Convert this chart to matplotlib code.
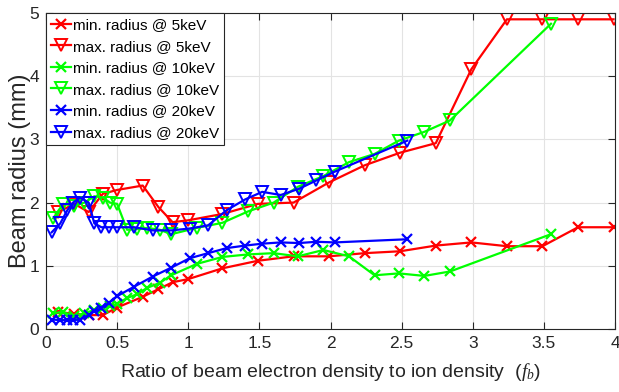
import matplotlib
matplotlib.use("Agg")
import matplotlib.pyplot as plt

plt.rcParams['font.family'] = ['Liberation Sans', 'DejaVu Sans']
plt.rcParams['mathtext.fontset'] = 'custom'
plt.rcParams['mathtext.it'] = 'Liberation Serif:italic'
plt.rcParams['mathtext.rm'] = 'Liberation Serif'

# 5 keV
x5 = [0.085, 0.2, 0.3, 0.4, 0.5, 0.68, 0.79, 0.89, 1.0, 1.24, 1.49, 1.74, 1.99,
      2.24, 2.49, 2.74, 2.99, 3.24, 3.49, 3.74, 3.99]
min5 = [0.27, 0.24, 0.22, 0.22, 0.34, 0.51, 0.63, 0.74, 0.79, 0.96, 1.08, 1.15, 1.15,
        1.2, 1.23, 1.32, 1.37, 1.31, 1.31, 1.61, 1.61]
max5 = [1.85, 1.98, 1.85, 2.14, 2.2, 2.27, 1.93, 1.69, 1.72, 1.82, 1.98, 2.0, 2.32,
        2.59, 2.79, 2.94, 4.11, 4.9, 4.9, 4.9, 4.9]

# 10 keV
x10 = [0.05, 0.12, 0.2, 0.27, 0.34, 0.4, 0.45, 0.5, 0.57, 0.64, 0.71, 0.8, 0.88,
       1.06, 1.24, 1.42, 1.6, 1.77, 1.95, 2.13, 2.31, 2.48, 2.66, 2.84, 3.55]
min10 = [0.25, 0.27, 0.2, 0.25, 0.3, 0.33, 0.36, 0.4, 0.49, 0.55, 0.65, 0.73, 0.85,
         1.03, 1.14, 1.18, 1.2, 1.15, 1.25, 1.15, 0.85, 0.88, 0.84, 0.91, 1.5]
max10 = [1.75, 1.98, 1.95, 2.0, 2.1, 2.08, 2.0, 1.98, 1.57, 1.58, 1.6, 1.57, 1.5,
         1.6, 1.68, 1.86, 2.0, 2.25, 2.42, 2.64, 2.77, 2.98, 3.12, 3.3, 4.83]

# 20 keV
x20 = [0.04, 0.1, 0.15, 0.19, 0.24, 0.3, 0.34, 0.39, 0.44, 0.5, 0.62, 0.75, 0.88,
       1.01, 1.14, 1.27, 1.4, 1.52, 1.65, 1.78, 1.9, 2.03, 2.54]
min20 = [0.15, 0.14, 0.14, 0.14, 0.15, 0.22, 0.28, 0.33, 0.41, 0.52, 0.67, 0.83, 0.97,
         1.12, 1.2, 1.28, 1.32, 1.35, 1.37, 1.36, 1.38, 1.37, 1.42]
max20 = [1.53, 1.67, 1.88, 2.0, 2.08, 2.0, 1.67, 1.61, 1.61, 1.61, 1.61, 1.56, 1.56,
         1.59, 1.64, 1.88, 2.05, 2.17, 2.12, 2.22, 2.35, 2.49, 2.98]

series = [
    (x5, min5, '#ff0000', 'x', 'min. radius @ 5keV'),
    (x5, max5, '#ff0000', 'v', 'max. radius @ 5keV'),
    (x10, min10, '#00ff00', 'x', 'min. radius @ 10keV'),
    (x10, max10, '#00ff00', 'v', 'max. radius @ 10keV'),
    (x20, min20, '#0000ff', 'x', 'min. radius @ 20keV'),
    (x20, max20, '#0000ff', 'v', 'max. radius @ 20keV'),
]

fig = plt.figure(figsize=(6.19, 3.92), dpi=100)
ax = fig.add_axes([46/619, 1-329/392, 569/619, 316/392])

for x, y, c, m, lab in series:
    if m == 'x':
        ax.plot(x, y, color=c, marker='x', ms=7.5, mew=1.6, lw=1.6, label=lab)
    else:
        ax.plot(x, y, color=c, marker='v', ms=8.5, mew=1.4, mfc='none', lw=1.6, label=lab)

ax.set_xlim(0, 4)
ax.set_ylim(0, 5)
ax.set_xticks([0, 0.5, 1, 1.5, 2, 2.5, 3, 3.5, 4])
ax.set_xticklabels(['0', '0.5', '1', '1.5', '2', '2.5', '3', '3.5', '4'])
ax.set_yticks([0, 1, 2, 3, 4, 5])
ax.tick_params(direction='in', top=True, right=True, length=5, width=0.8,
               labelsize=12.5, colors='#262626', pad=5)
for s in ax.spines.values():
    s.set_color('#262626')
    s.set_linewidth(0.8)
ax.grid(True, color='#e3e3e3', lw=0.8)
ax.set_axisbelow(True)

ax.set_xlabel(r'Ratio of beam electron density to ion density  ($f_b$)',
              fontsize=14, color='#262626', labelpad=7)
ax.set_ylabel('Beam radius (mm)', fontsize=17, color='#262626', labelpad=-1)

leg = ax.legend(loc='upper left', fontsize=11, borderaxespad=0, fancybox=False,
                framealpha=1, edgecolor='#262626', handlelength=1.3,
                handletextpad=0.15, labelspacing=0.5, borderpad=0.32)
leg.get_frame().set_linewidth(0.8)

fig.savefig('out.png', dpi=100)
